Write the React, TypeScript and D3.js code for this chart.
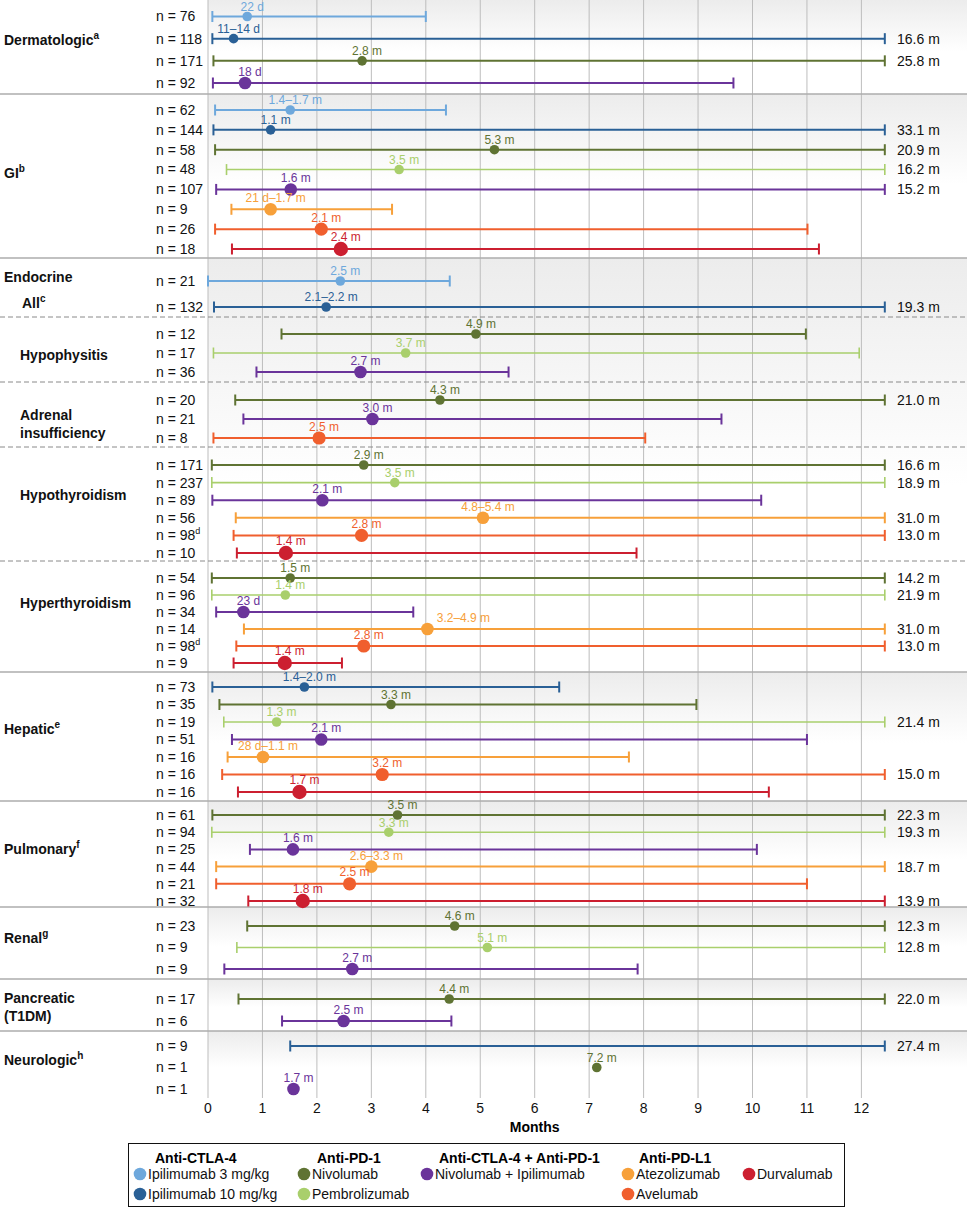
import React from "react";
import * as d3 from "d3";

// row: [drug, n, start, median, end (months), median label, n footnote]
type Row = [string, string, number | null, number | null, number | null, string, string?];

const drugKeys = ["ipi3", "ipi10", "nivo", "pembro", "nivoIpi", "atezo", "avel", "durva"];
const drugNames = ["Ipilimumab 3 mg/kg", "Ipilimumab 10 mg/kg", "Nivolumab", "Pembrolizumab", "Nivolumab + Ipilimumab", "Atezolizumab", "Avelumab", "Durvalumab"];
const drugClasses = ["Anti-CTLA-4", "Anti-PD-1", "Anti-CTLA-4 + Anti-PD-1", "Anti-PD-L1"];

const dermatologic: Row[] = [
  ["ipi3", "76", 0.08, 0.72, 4.0, "22 d"],
  ["ipi10", "118", 0.08, 0.47, 16.6, "11–14 d"],
  ["nivo", "171", 0.1, 2.83, 25.8, "2.8 m"],
  ["nivoIpi", "92", 0.09, 0.68, 9.65, "18 d"],
];
const gi: Row[] = [
  ["ipi3", "62", 0.13, 1.51, 4.37, "1.4–1.7 m"],
  ["ipi10", "144", 0.1, 1.15, 33.1, "1.1 m"],
  ["nivo", "58", 0.13, 5.26, 20.9, "5.3 m"],
  ["pembro", "48", 0.34, 3.51, 16.2, "3.5 m"],
  ["nivoIpi", "107", 0.15, 1.52, 15.2, "1.6 m"],
  ["atezo", "9", 0.43, 1.15, 3.38, "21 d–1.7 m"],
  ["avel", "26", 0.13, 2.08, 11.01, "2.1 m"],
  ["durva", "18", 0.44, 2.44, 11.22, "2.4 m"],
];
const endocrineAll: Row[] = [
  ["ipi3", "21", 0.0, 2.43, 4.44, "2.5 m"],
  ["ipi10", "132", 0.11, 2.17, 19.3, "2.1–2.2 m"],
];
const hypophysitis: Row[] = [
  ["nivo", "12", 1.35, 4.92, 10.98, "4.9 m"],
  ["pembro", "17", 0.1, 3.63, 11.96, "3.7 m"],
  ["nivoIpi", "36", 0.89, 2.8, 5.52, "2.7 m"],
];
const adrenal: Row[] = [
  ["nivo", "20", 0.5, 4.26, 21.0, "4.3 m"],
  ["nivoIpi", "21", 0.65, 3.02, 9.43, "3.0 m"],
  ["avel", "8", 0.1, 2.04, 8.03, "2.5 m"],
];
const hypothyroidism: Row[] = [
  ["nivo", "171", 0.07, 2.86, 16.6, "2.9 m"],
  ["pembro", "237", 0.07, 3.43, 18.9, "3.5 m"],
  ["nivoIpi", "89", 0.08, 2.1, 10.16, "2.1 m"],
  ["atezo", "56", 0.51, 5.05, 31.0, "4.8–5.4 m"],
  ["avel", "98", 0.47, 2.82, 13.0, "2.8 m", "d"],
  ["durva", "10", 0.53, 1.43, 7.87, "1.4 m"],
];
const hyperthyroidism: Row[] = [
  ["nivo", "54", 0.07, 1.51, 14.2, "1.5 m"],
  ["pembro", "96", 0.07, 1.42, 21.9, "1.4 m"],
  ["nivoIpi", "34", 0.15, 0.65, 3.77, "23 d"],
  ["atezo", "14", 0.66, 4.03, 31.0, "3.2–4.9 m"],
  ["avel", "98", 0.52, 2.86, 13.0, "2.8 m", "d"],
  ["durva", "9", 0.47, 1.41, 2.46, "1.4 m"],
];
const hepatic: Row[] = [
  ["ipi10", "73", 0.08, 1.77, 6.45, "1.4–2.0 m"],
  ["nivo", "35", 0.21, 3.36, 8.97, "3.3 m"],
  ["pembro", "19", 0.29, 1.26, 21.4, "1.3 m"],
  ["nivoIpi", "51", 0.44, 2.08, 11.0, "2.1 m"],
  ["atezo", "16", 0.36, 1.01, 7.73, "28 d–1.1 m"],
  ["avel", "16", 0.26, 3.2, 15.0, "3.2 m"],
  ["durva", "16", 0.55, 1.68, 10.3, "1.7 m"],
];
const pulmonary: Row[] = [
  ["nivo", "61", 0.08, 3.48, 22.3, "3.5 m"],
  ["pembro", "94", 0.07, 3.32, 19.3, "3.3 m"],
  ["nivoIpi", "25", 0.77, 1.56, 10.08, "1.6 m"],
  ["atezo", "44", 0.15, 3.0, 18.7, "2.6–3.3 m"],
  ["avel", "21", 0.15, 2.6, 11.0, "2.5 m"],
  ["durva", "32", 0.74, 1.74, 13.9, "1.8 m"],
];
const renal: Row[] = [
  ["nivo", "23", 0.72, 4.53, 12.3, "4.6 m"],
  ["pembro", "9", 0.53, 5.13, 12.8, "5.1 m"],
  ["nivoIpi", "9", 0.3, 2.65, 7.89, "2.7 m"],
];
const pancreatic: Row[] = [
  ["nivo", "17", 0.56, 4.43, 22.0, "4.4 m"],
  ["nivoIpi", "6", 1.36, 2.49, 4.47, "2.5 m"],
];
const neurologic: Row[] = [
  ["ipi10", "9", 1.51, null, 27.4, ""],
  ["nivo", "1", null, 7.14, null, "7.2 m"],
  ["nivoIpi", "1", null, 1.57, null, "1.7 m"],
];

const sectionRows = [dermatologic, gi, endocrineAll, hypophysitis, adrenal, hypothyroidism, hyperthyroidism, hepatic, pulmonary, renal, pancreatic, neurologic];
const sectionLabels = [["Dermatologic"], ["GI"], ["Endocrine", "All"], ["Hypophysitis"], ["Adrenal", "insufficiency"], ["Hypothyroidism"], ["Hyperthyroidism"], ["Hepatic"], ["Pulmonary"], ["Renal"], ["Pancreatic", "(T1DM)"], ["Neurologic"]];
const sectionNotes = ["a", "b", "c", "", "", "", "", "e", "f", "g", "", "h"];
const monthTicks = d3.range(0, 13);

// layout
const W = 967;
const H = 1208;
const FONT = "'Liberation Sans', Arial, Helvetica, sans-serif";
const sectionHeights = [94, 164, 59, 65, 65, 114, 111, 129, 106, 72, 52, 67];
const rowPad: [number, number][] = [[16.5, 11], [16, 9], [23, 10], [17, 10], [18, 9], [18, 8], [17, 9], [15, 9], [14, 6], [19, 10], [20, 10], [15, 9]];
const separators = ["solid", "solid", "dashed", "dashed", "dashed", "dashed", "solid", "solid", "solid", "solid", "solid", ""];
const labelDy = [-10, -6, -4, 2, 5, -14, -17, -10, -9, -9, -3, -7];
const labelX = [[4], [4], [4, 22], [20], [20, 20], [20], [20], [4], [4], [4], [4, 4], [4]];
const labelGap = [0, 0, 26, 0, 18, 0, 0, 0, 0, 0, 18, 0];
const shadedGroups = [[0, 0], [1, 1], [2, 6], [7, 7], [8, 8], [9, 9], [10, 10], [11, 11]];
const CLIP = 12.43;

const colors: Record<string, string> = {
  ipi3: "#6ea8dc",
  ipi10: "#2a6096",
  nivo: "#5f7333",
  pembro: "#a9cf6c",
  nivoIpi: "#6a349a",
  atezo: "#f7a03a",
  avel: "#f05f2e",
  durva: "#cc1f30",
};
const radius: Record<string, number> = {
  ipi3: 4.8, ipi10: 4.8, nivo: 4.8, pembro: 4.8, nivoIpi: 6.3, atezo: 6.3, avel: 6.6, durva: 7.2,
};
const labelNudge: Record<string, number> = { "3.2–4.9 m": 36 };

const x = d3.scaleLinear().domain([0, 12]).range([208, 861.4]);

export default function App() {
  const tops = sectionHeights.map((_, i) => d3.sum(sectionHeights.slice(0, i)));
  const plotBottom = d3.sum(sectionHeights);

  const sections = sectionRows.map((rows, i) => {
    const top = tops[i];
    const bottom = top + sectionHeights[i];
    const y = d3
      .scalePoint<number>()
      .domain(d3.range(rows.length))
      .range([top + rowPad[i][0], bottom - rowPad[i][1]]);
    return { rows, top, bottom, y };
  });

  const legendCols = [
    { head: 0, x: 140, hx: 155, items: [0, 1] },
    { head: 1, x: 304, hx: 317, items: [2, 3] },
    { head: 2, x: 427, hx: 439, items: [4] },
    { head: 3, x: 628, hx: 639, items: [5, 6] },
    { head: -1, x: 749, hx: 0, items: [7] },
  ];

  return (
    <div style={{ position: "absolute", left: 0, top: 0 }}>
      <svg width={W} height={H} style={{ display: "block", fontFamily: FONT }}>
        <defs>
          <linearGradient id="secShade" x1="0" y1="0" x2="0" y2="1">
            <stop offset="0%" stopColor="#ececec" />
            <stop offset="55%" stopColor="#ffffff" />
          </linearGradient>
        </defs>
        <rect width={W} height={H} fill="#fff" />

        {shadedGroups.map(([a, b], i) => (
          <rect
            key={"sh" + i}
            x={x(0)}
            y={tops[a]}
            width={W - x(0)}
            height={tops[b] + sectionHeights[b] - tops[a]}
            fill="url(#secShade)"
          />
        ))}

        {monthTicks.map((t) => (
          <g key={"g" + t}>
            <line x1={x(t)} x2={x(t)} y1={0} y2={plotBottom} stroke="#bdbdbd" strokeWidth={1} />
            <text x={x(t)} y={plotBottom + 15} textAnchor="middle" fontSize={14} fill="#111">
              {t}
            </text>
          </g>
        ))}
        <text x={(x(0) + x(12)) / 2} y={plotBottom + 34} textAnchor="middle" fontSize={14} fontWeight="bold">
          Months
        </text>

        {sections.map((s, i) =>
          separators[i] ? (
            <line
              key={"sep" + i}
              x1={0}
              x2={W}
              y1={s.bottom}
              y2={s.bottom}
              stroke={separators[i] === "solid" ? "#acacac" : "#8a8a8a"}
              strokeWidth={separators[i] === "solid" ? 1.6 : 1}
              strokeDasharray={separators[i] === "dashed" ? "5,3" : undefined}
            />
          ) : null
        )}

        {sections.map((s, i) => {
          const ys = s.rows.map((_, j) => s.y(j) as number);
          const lines = sectionLabels[i];
          const gap = labelGap[i];
          const cy = d3.mean(ys)! + labelDy[i];
          return (
            <g key={"lab" + i}>
              {lines.map((ln, k) => (
                <text
                  key={k}
                  x={labelX[i][k]}
                  y={cy + (k - (lines.length - 1) / 2) * gap}
                  dy="0.35em"
                  fontSize={14}
                  fontWeight="bold"
                  fill="#111"
                >
                  {ln}
                  {k === lines.length - 1 && sectionNotes[i] ? (
                    <tspan fontSize={10} dy="-0.6em">
                      {sectionNotes[i]}
                    </tspan>
                  ) : null}
                </text>
              ))}
            </g>
          );
        })}

        {sections.map((s, i) =>
          s.rows.map((r, j) => {
            const [drug, n, start, median, end, mLabel, nNote] = r;
            const cy = s.y(j) as number;
            const c = colors[drug];
            const rad = radius[drug];
            const sw = drug === "pembro" ? 1.6 : 2;
            const endDraw = end !== null ? (end > 12 ? CLIP : end) : null;
            return (
              <g key={`r${i}-${j}`}>
                <text x={156} y={cy} dy="0.35em" fontSize={14} fill="#111">
                  {"n = " + n}
                  {nNote ? (
                    <tspan fontSize={9} dy="-0.7em">
                      {nNote}
                    </tspan>
                  ) : null}
                </text>
                {start !== null && endDraw !== null ? (
                  <g stroke={c} strokeWidth={sw}>
                    <line x1={x(start)} x2={x(endDraw)} y1={cy} y2={cy} />
                    <line x1={x(start)} x2={x(start)} y1={cy - 5.5} y2={cy + 5.5} />
                    <line x1={x(endDraw)} x2={x(endDraw)} y1={cy - 5.5} y2={cy + 5.5} />
                  </g>
                ) : null}
                {median !== null ? (
                  <>
                    <circle cx={x(median)} cy={cy} r={rad} fill={c} />
                    <text
                      x={x(median) + (labelNudge[mLabel] ?? 5)}
                      y={cy - rad - 0.8}
                      textAnchor="middle"
                      fontSize={12}
                      fill={c}
                    >
                      {mLabel}
                    </text>
                  </>
                ) : null}
                {end !== null && end > 12 ? (
                  <text x={897} y={cy} dy="0.35em" fontSize={14} fill="#111">
                    {end.toFixed(1) + " m"}
                  </text>
                ) : null}
              </g>
            );
          })
        )}

        <rect x={128.5} y={1143.5} width={716} height={63} fill="#fff" stroke="#111" strokeWidth={1} />
        {legendCols.map((col, ci) => (
          <g key={"lc" + ci}>
            {col.head >= 0 ? (
              <text x={col.hx} y={1158} fontSize={14} fontWeight="bold" dy="0.35em">
                {drugClasses[col.head]}
              </text>
            ) : null}
            {col.items.map((d, k) => (
              <g key={d}>
                <circle cx={col.x} cy={1174 + k * 20} r={6.3} fill={colors[drugKeys[d]]} />
                <text x={col.x + 8} y={1174 + k * 20} dy="0.35em" fontSize={14} fill="#111">
                  {drugNames[d]}
                </text>
              </g>
            ))}
          </g>
        ))}
      </svg>
    </div>
  );
}
